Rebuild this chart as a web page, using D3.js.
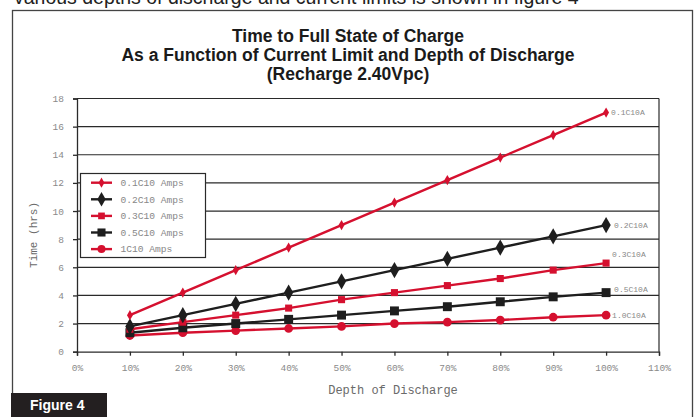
<!DOCTYPE html>
<html>
<head>
<meta charset="utf-8">
<script src="https://cdn.jsdelivr.net/npm/d3@7"></script>
<style>
  body { margin: 0; background: #fff; }
  svg { display: block; }
</style>
</head>
<body>
<svg id="chart" width="696" height="417"></svg>
<script>
// depth of discharge (%) and hours to full charge per current limit
const depths = [10, 20, 30, 40, 50, 60, 70, 80, 90, 100];
const c01 = [2.6, 4.2, 5.8, 7.4, 9.0, 10.6, 12.2, 13.8, 15.4, 17.0];
const c02 = [1.8, 2.6, 3.4, 4.2, 5.0, 5.8, 6.6, 7.4, 8.2, 9.0];
const c03 = [1.6, 2.1, 2.6, 3.1, 3.7, 4.2, 4.7, 5.2, 5.8, 6.3];
const c05 = [1.35, 1.7, 2.0, 2.3, 2.6, 2.9, 3.2, 3.55, 3.9, 4.2];
const c10 = [1.15, 1.35, 1.5, 1.65, 1.8, 2.0, 2.1, 2.25, 2.45, 2.6];
const legendNames = ["0.1C10 Amps", "0.2C10 Amps", "0.3C10 Amps", "0.5C10 Amps", "1C10 Amps"];
const endNames = ["0.1C10A", "0.2C10A", "0.3C10A", "0.5C10A", "1.0C10A"];
const xTicks = [0, 10, 20, 30, 40, 50, 60, 70, 80, 90, 100, 110];
const yTicks = [0, 2, 4, 6, 8, 10, 12, 14, 16, 18];

const red = "#d5102f";
const black = "#1e1e1e";
const series = [
  { values: c01, color: red, shape: d3.symbolDiamond, size: 30, lsize: 30, dx: 5, dy: 0 },
  { values: c02, color: black, shape: d3.symbolDiamond, size: 75, lsize: 60, dx: 8, dy: 0 },
  { values: c03, color: red, shape: d3.symbolSquare, size: 50, lsize: 45, dx: 6, dy: -9 },
  { values: c05, color: black, shape: d3.symbolSquare, size: 80, lsize: 65, dx: 8, dy: -3 },
  { values: c10, color: red, shape: d3.symbolCircle, size: 60, lsize: 50, dx: 6, dy: 0 }
];

const svg = d3.select("#chart");
const mono = "'Liberation Mono', 'DejaVu Sans Mono', monospace";

// text of the page above the figure, mostly cut off
svg.append("text")
  .attr("x", 14).attr("y", 4)
  .style("font-family", "'Liberation Sans', Arial, sans-serif")
  .style("font-size", "19.5px")
  .style("fill", "#222")
  .text("various depths of discharge and current limits is shown in figure 4");

// frame
svg.append("rect")
  .attr("x", 12.5).attr("y", 10.5)
  .attr("width", 680).attr("height", 420)
  .style("fill", "none")
  .style("stroke", "#444")
  .style("stroke-width", 1.3);

// title
const title = ["Time to Full State of Charge",
  "As a Function of Current Limit and Depth of Discharge",
  "(Recharge 2.40Vpc)"];
svg.append("g").selectAll("text")
  .data(title)
  .join("text")
  .attr("x", 348)
  .attr("y", (d, i) => 41.5 + i * 19)
  .attr("text-anchor", "middle")
  .style("font-family", "'Liberation Sans Narrow', 'Liberation Sans', Arial, sans-serif")
  .style("font-weight", "bold")
  .style("font-size", "17.5px")
  .style("fill", "#1a1a1a")
  .text(d => d);

const x = d3.scaleLinear().domain([0, 110]).range([77, 659]);
const y = d3.scaleLinear().domain([0, 18]).range([351.7, 98.5]);

// horizontal grid
svg.append("g").selectAll("line")
  .data(yTicks.filter(d => d > 0))
  .join("line")
  .attr("x1", x(0)).attr("x2", x(110))
  .attr("y1", d => y(d)).attr("y2", d => y(d))
  .style("stroke", "#2a2a2a")
  .style("stroke-width", 1.2);

// right border of plot
svg.append("line")
  .attr("x1", x(110)).attr("x2", x(110))
  .attr("y1", y(18)).attr("y2", y(0))
  .style("stroke", "#2a2a2a")
  .style("stroke-width", 1.2);

const yAxis = svg.append("g")
  .attr("transform", `translate(${x(0)},0)`)
  .call(d3.axisLeft(y).tickValues(yTicks).tickSize(4).tickPadding(9));
const xAxis = svg.append("g")
  .attr("transform", `translate(0,${y(0)})`)
  .call(d3.axisBottom(x).tickValues(xTicks).tickSize(4).tickPadding(9)
    .tickFormat(d => d + "%"));

[yAxis, xAxis].forEach(a => {
  a.select(".domain").style("stroke", "#2a2a2a").style("stroke-width", 1.3);
  a.selectAll(".tick line").style("stroke", "#2a2a2a").style("stroke-width", 1.3);
  a.selectAll(".tick text")
    .style("font-family", mono)
    .style("font-size", "9.5px")
    .style("fill", "#8a8a8a");
});

// axis titles
svg.append("text")
  .attr("transform", `translate(37,${y(8.3)}) rotate(-90)`)
  .attr("text-anchor", "middle")
  .style("font-family", mono)
  .style("font-size", "11px")
  .style("fill", "#6a6a6a")
  .text("Time (hrs)");
svg.append("text")
  .attr("x", 393).attr("y", 394)
  .attr("text-anchor", "middle")
  .style("font-family", mono)
  .style("font-size", "12px")
  .style("fill", "#6a6a6a")
  .text("Depth of Discharge");

// series
const line = d3.line().x((d, i) => x(depths[i])).y(d => y(d));
series.slice().reverse().forEach(s => {
  const g = svg.append("g");
  g.append("path")
    .datum(s.values)
    .attr("d", line)
    .style("fill", "none")
    .style("stroke", s.color)
    .style("stroke-width", 2.4);
  g.selectAll("path.m")
    .data(s.values)
    .join("path")
    .attr("class", "m")
    .attr("transform", (d, i) => `translate(${x(depths[i])},${y(d)})`)
    .attr("d", d3.symbol().type(s.shape).size(s.size))
    .style("fill", s.color);
});

// end labels
svg.append("g").selectAll("text")
  .data(series)
  .join("text")
  .attr("x", (s, i) => x(100) + s.dx)
  .attr("y", (s, i) => y(s.values[s.values.length - 1]) + s.dy)
  .attr("dy", "0.35em")
  .style("font-family", mono)
  .style("font-size", "8px")
  .style("fill", "#888")
  .text((s, i) => endNames[i]);

// legend
const leg = svg.append("g");
leg.append("rect")
  .attr("x", 80.5).attr("y", 173.5)
  .attr("width", 125).attr("height", 84)
  .style("fill", "#fff")
  .style("stroke", "#2a2a2a")
  .style("stroke-width", 1.2);
const rows = leg.selectAll("g")
  .data(series)
  .join("g")
  .attr("transform", (s, i) => `translate(0,${182.7 + i * 16.6})`);
rows.append("line")
  .attr("x1", 91).attr("x2", 112)
  .style("stroke", s => s.color)
  .style("stroke-width", 2.4);
rows.append("path")
  .attr("transform", "translate(101.5,0)")
  .attr("d", s => d3.symbol().type(s.shape).size(s.lsize)())
  .style("fill", s => s.color);
rows.append("text")
  .attr("x", 120.5)
  .attr("dy", "0.35em")
  .style("font-family", mono)
  .style("font-size", "9.6px")
  .style("fill", "#888")
  .text((s, i) => legendNames[i]);

// figure tag
svg.append("rect")
  .attr("x", 11).attr("y", 393)
  .attr("width", 96).attr("height", 24)
  .style("fill", "#231f20");
svg.append("text")
  .attr("x", 30).attr("y", 410)
  .style("font-family", "'Liberation Sans', Arial, sans-serif")
  .style("font-weight", "bold")
  .style("font-size", "14px")
  .style("fill", "#fff")
  .text("Figure 4");
</script>
</body>
</html>
